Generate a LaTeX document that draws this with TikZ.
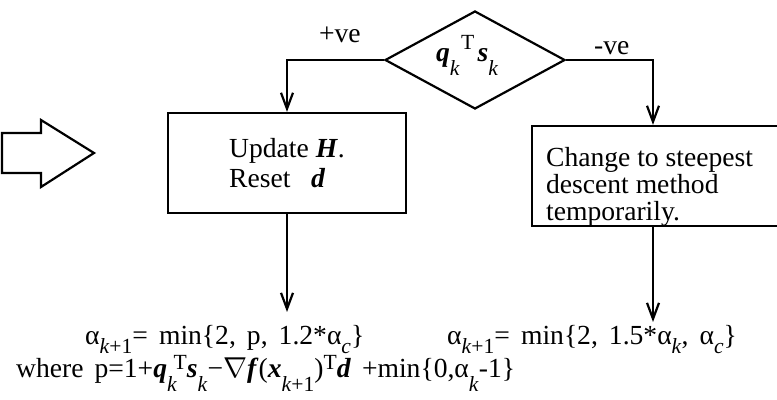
\documentclass[tikz,border=0pt]{standalone}
\usepackage{fontspec}
\setmainfont{Liberation Serif}
\usetikzlibrary{shapes.geometric,arrows.meta}
\newcommand\bi[1]{\textbf{\textit{#1}}}
\newcommand\mysub[1]{\raisebox{-0.3em}{\fontsize{10.8}{11}\selectfont #1}}
\newcommand\mylow[1]{\raisebox{-0.5em}{\fontsize{10.8}{11}\selectfont #1}}
\newcommand\mysup[1]{\raisebox{0.32em}{\fontsize{10.8}{11}\selectfont #1}}
\newcommand\myhigh[1]{\raisebox{0.45em}{\fontsize{10.8}{11}\selectfont #1}}
\newcommand\widesp{\spaceskip=0.4em\relax}
\begin{document}
\begin{tikzpicture}[x=0.5pt,y=-0.5pt, font=\fontsize{13.8}{15}\selectfont, line width=1.1pt,
  flow/.style={-{Straight Barb[length=8pt,width=6pt]}},
  box/.style={draw, rectangle, inner sep=0pt},
  txt/.style={inner sep=0pt, anchor=base west},
  formula/.style={txt, font=\fontsize{13.8}{15}\selectfont\widesp}]
\useasboundingbox (0,0) rectangle (777,400);
\clip (0,0) rectangle (777,400);
% big hollow arrow
\draw (2,133) -- (41,133) -- (41,120) -- (94,153) -- (41,187) -- (41,173) -- (2,173) -- cycle;
% decision
\node[diamond, draw, minimum width=90pt, minimum height=49pt, inner sep=0pt] (dia) at (475,60) {};
\node[txt] (dtext) at (435,62) {\bi{q}\mylow{\textit{k}}\kern0.05em\myhigh{T}\kern0.12em\bi{s}\mylow{\textit{k}}};
% boxes
\node[box, minimum width=119pt, minimum height=50pt, align=left] (lbox) at (287,163) {Update \bi{H}.\\Reset\hspace{0.75em}\bi{d}};
\node[box, minimum width=144pt, minimum height=50pt] (rbox) at (676,176) {};
\node[align=left, anchor=north west, inner sep=0pt, font=\fontsize{13.8}{13.5}\selectfont] (rtext) at (545,146) {Change to steepest\\descent method\\temporarily.};
% connectors
\coordinate (rx) at (653,0);
\coordinate (ltip) at (287,312);
\coordinate (rtip) at (653,322);
\draw[flow] (dia.west) -| (lbox.north);
\draw[flow] (dia.east) -| (rbox.north -| rx);
\draw[flow] (lbox.south) -- (ltip);
\draw[flow] (rbox.south -| rx) -- (rtip);
% labels
\node[txt] (plus) at (318,43) {+ve};
\node[txt] (minus) at (593,55) {-ve};
% formulas
\node[formula] (lf1) at (84,345) {α\mysub{\textit{k}+1}= min\{2, p, 1.2*α\mysub{\textit{c}}\}};
\node[formula] (lf2) at (15,378) {where p=1+\bi{q}\mylow{\textit{k}}\kern-0.12em\mysup{T}\bi{s}\mylow{\textit{k}}−$\nabla$\bi{f}(\bi{x}\mylow{\textit{k}+1})\mysup{T}\bi{d} +min\{0,α\mylow{\textit{k}}-1\}};
\node[formula] (rf1) at (446,345) {α\mysub{\textit{k}+1}= min\{2, 1.5*α\mysub{\textit{k}}, α\mysub{\textit{c}}\}};
\end{tikzpicture}
\end{document}
